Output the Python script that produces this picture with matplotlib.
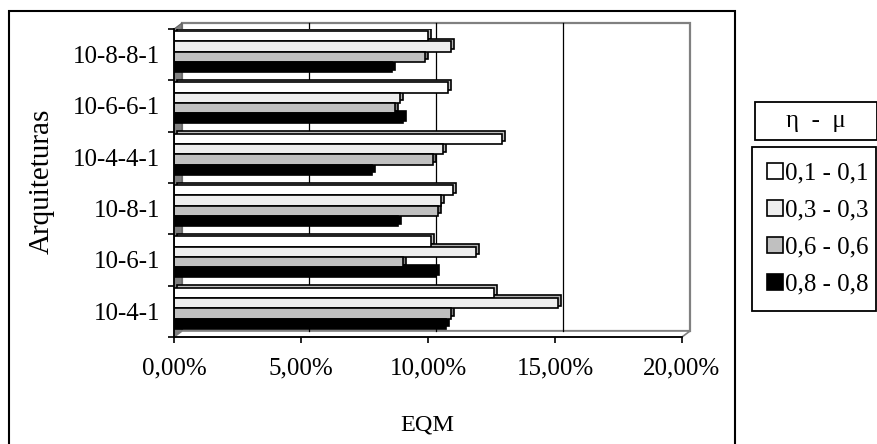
import numpy as np
import matplotlib
matplotlib.use("Agg")
import matplotlib.pyplot as plt
from matplotlib.patches import Rectangle, Polygon
from matplotlib.transforms import ScaledTranslation
from matplotlib.ticker import FuncFormatter, FixedLocator

arquiteturas = ["10-4-1", "10-6-1", "10-8-1", "10-4-4-1", "10-6-6-1", "10-8-8-1"]
series_labels = ["0,1 - 0,1", "0,3 - 0,3", "0,6 - 0,6", "0,8 - 0,8"]
series_colors = ["#ffffff", "#eeeeee", "#c0c0c0", "#000000"]
eqm_01 = [0.126, 0.101, 0.110, 0.129, 0.108, 0.100]
eqm_03 = [0.151, 0.119, 0.105, 0.106, 0.089, 0.109]
eqm_06 = [0.109, 0.090, 0.104, 0.102, 0.087, 0.099]
eqm_08 = [0.107, 0.103, 0.088, 0.078, 0.090, 0.086]
x_ticks = [0.0, 0.05, 0.10, 0.15, 0.20]

plt.rcParams['font.family'] = ['Liberation Serif', 'DejaVu Serif']
FS = 18

W, H = 878, 444
fig = plt.figure(figsize=(W / 100, H / 100), dpi=100)


def fx(px):
    return px / W


def fy(py):
    return 1 - py / H


ax = fig.add_axes([fx(174), fy(337), fx(682) - fx(174), fy(29) - fy(337)])
ax.patch.set_visible(False)

# depth of the pseudo-3D box (pixels -> axes fraction)
dx_px, dy_px = 8, 6
dx = dx_px / (682 - 174)
dy = dy_px / (337 - 29)
back = ax.transData + ScaledTranslation(dx_px / 100, dy_px / 100, fig.dpi_scale_trans)

# back wall, left wall and floor
ax.add_patch(Rectangle((dx, dy), 1, 1, transform=ax.transAxes, facecolor="white",
                       edgecolor="#808080", lw=1.6, zorder=0, clip_on=False))
ax.add_patch(Polygon([(0, 0), (0, 1), (dx, 1 + dy), (dx, dy)], closed=True,
                     transform=ax.transAxes, facecolor="#808080", edgecolor="#606060",
                     lw=0.8, zorder=0.5, clip_on=False))
ax.add_patch(Polygon([(0, 0), (1, 0), (1 + dx, dy), (dx, dy)], closed=True,
                     transform=ax.transAxes, facecolor="white", edgecolor="#808080",
                     lw=1.2, zorder=0.5, clip_on=False))
for xv in x_ticks[1:-1]:
    ax.plot([xv, xv], [-0.5, 5.5], color="black", lw=0.9, transform=back,
            zorder=1, clip_on=False)

series = [eqm_01, eqm_03, eqm_06, eqm_08]
y0 = np.arange(len(arquiteturas))
side = ax.transData + ScaledTranslation(0.03, 0.025, fig.dpi_scale_trans)
side_colors = ["#c0c0c0", "#b0b0b0", "#808080", "#000000"]
handles = []
for k, (vals, col) in enumerate(zip(series, side_colors)):
    yk = y0 + 0.36 - 0.2 * k
    ax.barh(yk, vals, height=0.2, color=col, edgecolor="black", lw=1.2,
            transform=side, zorder=2)
for k, (vals, col) in enumerate(zip(series, series_colors)):
    yk = y0 + 0.36 - 0.2 * k
    h = ax.barh(yk, vals, height=0.2, color=col, edgecolor="black", lw=1.2, zorder=3)
    handles.append(h)

ax.set_xlim(0, 0.20)
ax.set_ylim(-0.5, 5.5)

for s in ["top", "right"]:
    ax.spines[s].set_visible(False)
for s in ["left", "bottom"]:
    ax.spines[s].set_linewidth(1.3)
    ax.spines[s].set_zorder(4)

ax.xaxis.set_major_locator(FixedLocator(x_ticks))
ax.xaxis.set_major_formatter(FuncFormatter(lambda v, p: f"{v * 100:.2f}%".replace(".", ",")))
ax.tick_params(axis="x", direction="out", length=4.5, width=1.2, pad=10, labelsize=FS)

ax.yaxis.set_major_locator(FixedLocator(np.arange(-0.5, len(arquiteturas), 1.0)))
ax.yaxis.set_major_formatter(FuncFormatter(lambda v, p: ""))
ax.yaxis.set_minor_locator(FixedLocator(y0))
ax.set_yticklabels(arquiteturas, minor=True)
ax.tick_params(axis="y", which="major", direction="out", length=4.5, width=1.2)
ax.tick_params(axis="y", which="minor", length=0, pad=10, labelsize=FS)

fig.text(fx(42), fy(181), "Arquiteturas", rotation=90, ha="center", va="center", fontsize=21)
fig.text(fx(427), fy(425), "EQM", ha="center", va="center", fontsize=17.5)

# chart border
fig.add_artist(Rectangle((fx(9), fy(470)), fx(735) - fx(9), fy(11) - fy(470),
                         transform=fig.transFigure, fill=False, edgecolor="black", lw=1.5))

# legend with its title in a separate box
leg = ax.legend(handles, series_labels, loc="upper left",
                bbox_to_anchor=(fx(752), fy(309), fx(876) - fx(752), fy(147) - fy(309)),
                bbox_transform=fig.transFigure, mode="expand",
                borderaxespad=0, fancybox=False, edgecolor="black", framealpha=1,
                fontsize=FS, handlelength=0.62, handleheight=0.62, handletextpad=0.1,
                labelspacing=0.6, borderpad=0.62)
leg.get_frame().set_linewidth(1.3)
fig.add_artist(Rectangle((fx(755), fy(140)), fx(877) - fx(755), fy(102) - fy(140),
                         transform=fig.transFigure, fill=False, edgecolor="black", lw=1.3))
fig.text(fx(816), fy(121), "η  -  μ", ha="center", va="center", fontsize=FS)

fig.savefig("out.png", dpi=100)
